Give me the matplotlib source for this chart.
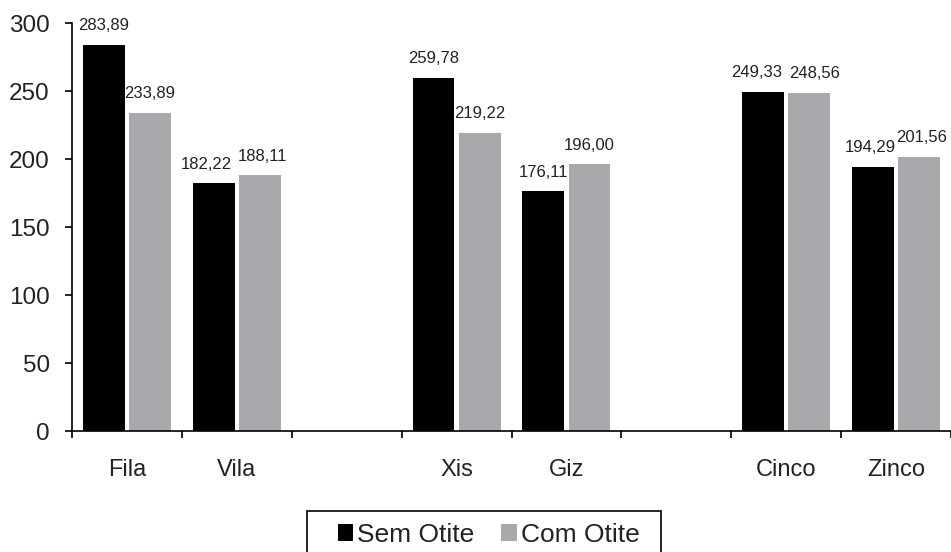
import matplotlib
matplotlib.use("Agg")
import matplotlib.pyplot as plt
from matplotlib.patches import Rectangle
import numpy as np

plt.rcParams['font.family'] = ['Liberation Sans', 'DejaVu Sans']

# categorias (as vazias sao os espacos entre os pares)
categorias = ["Fila", "Vila", "", "Xis", "Giz", "", "Cinco", "Zinco"]
sem_otite = [283.89, 182.22, None, 259.78, 176.11, None, 249.33, 194.29]
com_otite = [233.89, 188.11, None, 219.22, 196.00, None, 248.56, 201.56]
series = ["Sem Otite", "Com Otite"]
cores = ["#000000", "#A7A9AC"]

W, H = 951, 552
fig = plt.figure(figsize=(W / 100, H / 100), dpi=100)
ax = fig.add_axes([72 / W, 121 / H, 1 - 72 / W, 408 / H])

slot = np.arange(len(categorias))
width = 0.38
desloc = [-0.21, 0.21]
# pequenos deslocamentos dos rotulos (em pontos) onde eles se tocam
empurra = [[0, -5, 0, 0, 0, 0, -5, -2], [0, 2, 0, 0, 0, 0, 4, 2]]

barras = []
for k, (vals, nome, cor, d) in enumerate(zip([sem_otite, com_otite], series, cores, desloc)):
    idx = [i for i, v in enumerate(vals) if v is not None]
    xs = slot[idx] + 0.5 + d
    ys = [vals[i] for i in idx]
    b = ax.bar(xs, ys, width, color=cor, label=nome)
    barras.append(b)
    for i, x, y in zip(idx, xs, ys):
        ax.annotate(f"{y:.2f}".replace(".", ","), (x, y), xytext=(empurra[k][i], 10.5),
                    textcoords="offset points", ha="center", va="baseline",
                    fontsize=12, color="#222222")

ax.set_xlim(0, (W - 72) / 111)
ax.set_ylim(0, 300)
ax.set_yticks(np.arange(0, 301, 50))

ax.set_xticks(np.arange(0, 9))
ax.set_xticklabels([])
ax.set_xticks(slot + 0.5, minor=True)
ax.set_xticklabels(categorias, minor=True)
ax.tick_params(axis="x", which="minor", length=0, pad=20, labelsize=17, labelcolor="#222222")
ax.tick_params(axis="x", which="major", length=5, width=1.2, direction="out")
ax.tick_params(axis="y", length=5, width=1.2, pad=11, labelsize=17.5, labelcolor="#222222")

for s in ["top", "right"]:
    ax.spines[s].set_visible(False)
ax.spines["left"].set_linewidth(1.2)
ax.spines["bottom"].set_linewidth(1.2)

leg = fig.legend(handles=barras, loc="center", bbox_to_anchor=(488.5 / W, (H - 535) / H),
                 ncol=2, fontsize=19, frameon=False,
                 handlelength=0.6, handleheight=0.6, handletextpad=0.15,
                 columnspacing=1.0, borderpad=0, borderaxespad=0)
for t in leg.get_texts():
    t.set_color("#222222")

# moldura da legenda (passa da borda inferior, como no original)
fig.patches.append(Rectangle((307 / W, -10 / H), (661 - 307) / W, (H - 511 + 10) / H,
                             transform=fig.transFigure, fill=False,
                             edgecolor="black", linewidth=1.2))

fig.savefig("out.png", dpi=100)
